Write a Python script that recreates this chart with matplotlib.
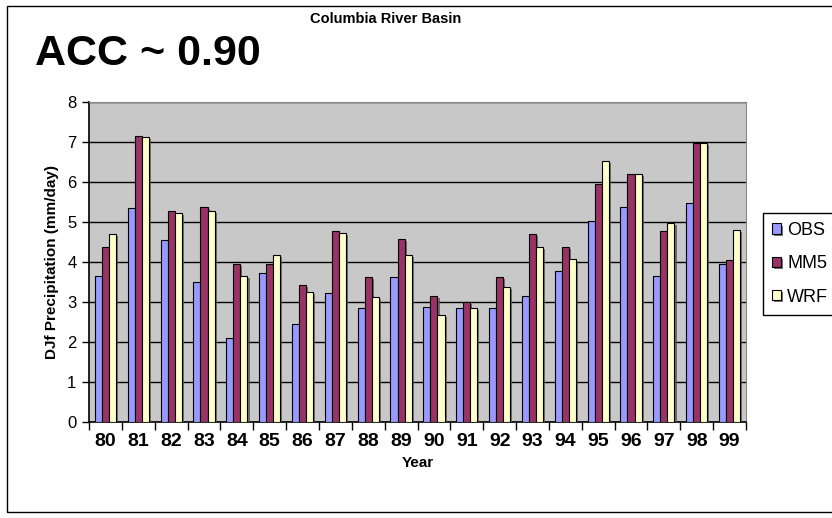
import numpy as np
import matplotlib
matplotlib.use("Agg")
import matplotlib.pyplot as plt
import matplotlib.patheffects as pe
from matplotlib.patches import Rectangle

plt.rcParams['font.family'] = ['Liberation Sans', 'DejaVu Sans']

# data
years = ['80', '81', '82', '83', '84', '85', '86', '87', '88', '89',
         '90', '91', '92', '93', '94', '95', '96', '97', '98', '99']
obs = [3.65, 5.34, 4.54, 3.49, 2.11, 3.72, 2.46, 3.22, 2.84, 3.62,
       2.88, 2.84, 2.84, 3.15, 3.77, 5.03, 5.38, 3.65, 5.47, 3.96]
mm5 = [4.38, 7.15, 5.27, 5.38, 3.96, 3.96, 3.42, 4.77, 3.62, 4.58,
       3.15, 2.99, 3.62, 4.69, 4.38, 5.96, 6.19, 4.78, 6.97, 4.04]
wrf = [4.69, 7.12, 5.23, 5.27, 3.65, 4.18, 3.26, 4.72, 3.12, 4.18,
       2.68, 2.85, 3.38, 4.38, 4.08, 6.53, 6.19, 4.97, 6.97, 4.81]
names = ['OBS', 'MM5', 'WRF']
colors = ['#9999FF', '#993366', '#FFFFCC']

fig = plt.figure(figsize=(8.32, 5.18), dpi=100)
ax = fig.add_axes([89/832, 96/518, 657/832, 320/518])

# outer chart border (right side runs off the picture)
fig.patches.append(Rectangle((7/832, 6/518), 1.0, 506/518, transform=fig.transFigure,
                             fill=False, edgecolor='black', linewidth=1.0))

x = np.arange(len(years))
w = 0.215
shadow = [pe.SimplePatchShadow(offset=(1.5, -1.5), shadow_rgbFace='#555555', alpha=0.8), pe.Normal()]
for k, (vals, name, c) in enumerate(zip([obs, mm5, wrf], names, colors)):
    bars = ax.bar(x + (k - 1) * w, vals, width=w, color=c, edgecolor='black',
                  linewidth=0.8, label=name, zorder=3)
    for b in bars:
        b.set_path_effects(shadow)

ax.set_facecolor('#C8C8C8')
ax.set_xlim(-0.5, len(years) - 0.5)
ax.set_ylim(0, 8)
ax.set_yticks(range(0, 9))
ax.grid(axis='y', color='black', linewidth=1.0, zorder=0)
ax.set_axisbelow(True)

ax.set_xticks(x)
ax.set_xticklabels(years, fontsize=14, fontweight='bold')
ax.set_xticks(np.arange(-0.5, len(years)), minor=True)
ax.tick_params(axis='x', which='major', length=0, pad=8)
ax.tick_params(axis='x', which='minor', length=6, width=1, color='black')
ax.tick_params(axis='y', labelsize=12, length=5, width=1, pad=4)

for side in ['top', 'right']:
    ax.spines[side].set_color('#888888')
for side in ['left', 'bottom']:
    ax.spines[side].set_color('black')
    ax.spines[side].set_linewidth(1.2)

ax.set_xlabel('Year', fontsize=11, fontweight='bold', labelpad=4)
ax.set_ylabel('DJf Precipitation (mm/day)', fontsize=11, fontweight='bold', labelpad=6)

fig.text(35/832, 1 - 65/518, 'ACC ~ 0.90', fontsize=31, fontweight='bold', ha='left', va='baseline')
fig.text(310/832, 1 - 23/518, 'Columbia River Basin', fontsize=10.5, fontweight='bold', ha='left', va='baseline')

leg = fig.legend(loc='upper left', bbox_to_anchor=(763/832, 1 - 213/518), fontsize=13,
                 frameon=True, fancybox=False, edgecolor='black', framealpha=1,
                 handlelength=0.5, handleheight=0.5, handletextpad=0.35,
                 labelspacing=0.9, borderpad=0.5, borderaxespad=0)
leg.get_frame().set_linewidth(1.0)

fig.savefig('out.png', dpi=100)
